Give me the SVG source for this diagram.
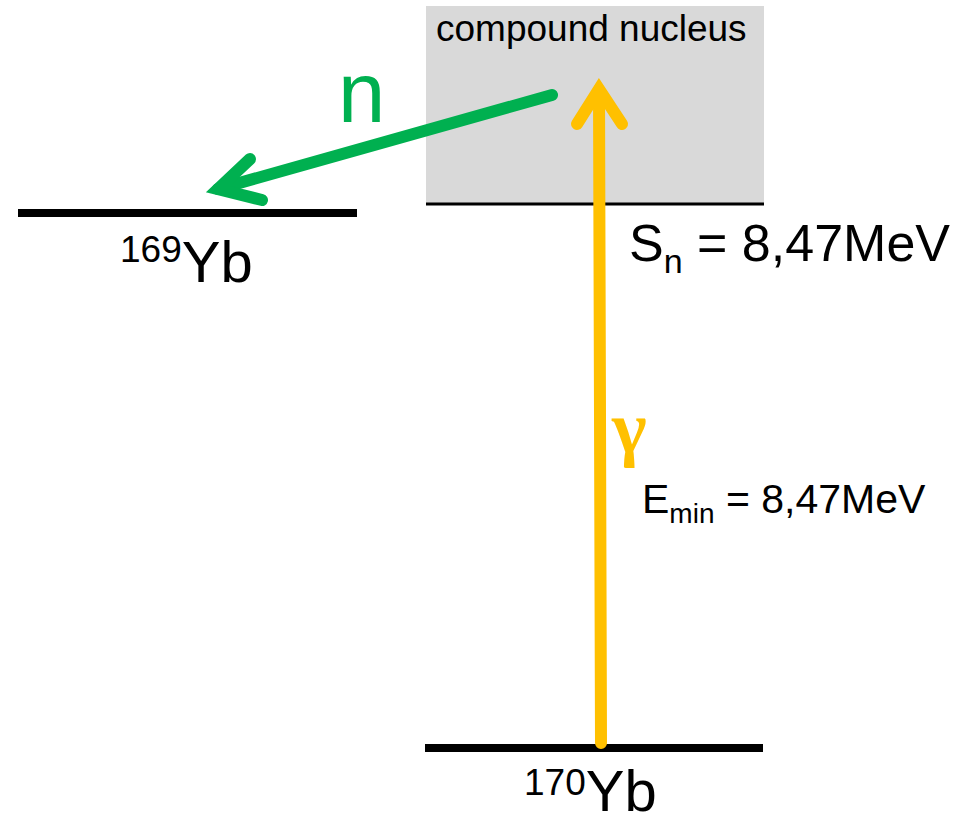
<svg xmlns="http://www.w3.org/2000/svg" width="957" height="815" viewBox="0 0 957 815">
<style>
text{font-family:"Liberation Sans",Arial,sans-serif;fill:#000}
.lvl{stroke:#000;stroke-width:8}
.g{stroke:#00B050;stroke-width:12;fill:none;stroke-linecap:round;stroke-linejoin:miter}
.y{stroke:#FFC000;stroke-width:12;fill:none;stroke-linecap:round;stroke-linejoin:miter}
</style>
<rect width="957" height="815" fill="#fff"/>
<g id="compound">
<rect x="426" y="6" width="338" height="198" fill="#D9D9D9"/>
<line x1="426" y1="204" x2="764" y2="204" stroke="#000" stroke-width="3"/>
<text x="436" y="41" font-size="37">compound nucleus</text>
</g>
<g id="yb169">
<line class="lvl" x1="18" y1="213" x2="357" y2="213"/>
<text x="120" y="282" font-size="58"><tspan font-size="37" dy="-20">169</tspan><tspan dy="20">Yb</tspan></text>
</g>
<g id="yb170">
<line class="lvl" x1="425" y1="748" x2="763" y2="748"/>
<text x="524" y="811" font-size="58"><tspan font-size="37" dy="-16">170</tspan><tspan dy="16">Yb</tspan></text>
</g>
<g id="sn">
<text x="629" y="261" font-size="52">S<tspan font-size="34" dy="12">n</tspan><tspan dy="-12"> = 8,47MeV</tspan></text>
</g>
<g id="emin">
<text x="642" y="513" font-size="41">E<tspan font-size="28" dy="10">min</tspan><tspan dy="-10"> = 8,47MeV</tspan></text>
</g>
<g id="connectors">
<line class="g" x1="552" y1="95" x2="218" y2="189"/>
<polyline class="g" points="250,159 218,189 262,200"/>
<text x="338" y="122" font-size="85" style="fill:#00B050">n</text>
<line class="y" x1="601" y1="743" x2="599" y2="90"/>
<polyline class="y" points="577,124 599,89 622,124"/>
<text x="612" y="452" font-size="74" font-weight="bold" style="font-family:'Liberation Serif','DejaVu Serif',serif;fill:#FFC000">γ</text>
</g>
</svg>
